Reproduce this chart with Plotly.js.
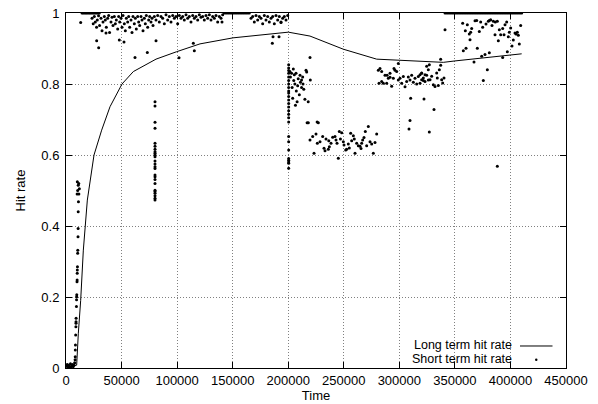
<!DOCTYPE html>
<html>
<head>
<meta charset="utf-8">
<script src="https://cdn.plot.ly/plotly-3.0.1.min.js"></script>
<style>html,body{margin:0;padding:0;background:#fff;}#chart{width:598px;height:404px;}</style>
</head>
<body>
<div id="chart"></div>
<script>
// Long term hit rate (line)
const longX = [0, 4000, 8500, 9600, 11100, 13200, 15600, 17100, 19200, 25200, 32100, 39600, 50400, 60600, 81000, 99600, 120600, 150300, 175000, 200100, 219600, 249600, 279600, 300600, 339600, 350100, 410100];
const longY = [0.003, 0.005, 0.006, 0.008, 0.098, 0.19, 0.332, 0.398, 0.473, 0.6, 0.67, 0.736, 0.8, 0.835, 0.87, 0.891, 0.913, 0.93, 0.938, 0.946, 0.935, 0.898, 0.870, 0.867, 0.861, 0.865, 0.885];

// Short term hit rate (points), grouped by region
const startX = [500, 1200, 2000, 2500, 3200, 4000, 4500, 5200, 6000, 6500, 7200, 7800];
const startY = [0.005, 0.01, 0, 0.008, 0.003, 0.012, 0.002, 0.006, 0.01, 0.004, 0.008, 0.015];

const riseX = [8200, 8300, 8400, 8500, 8700, 8900, 9000, 9000, 9100, 9400, 9500, 9600, 9700, 9900, 10000, 10100, 10200, 10300, 10500, 10600, 10800, 10900, 11000, 11200, 10000, 10500, 11000, 11500, 10200, 12000, 11600, 13200];
const riseY = [0.023, 0.032, 0.051, 0.065, 0.093, 0.116, 0.126, 0.130, 0.140, 0.173, 0.192, 0.201, 0.206, 0.243, 0.248, 0.267, 0.276, 0.285, 0.323, 0.332, 0.37, 0.393, 0.44, 0.468, 0.49, 0.50, 0.515, 0.52, 0.525, 0.505, 0.49, 0.973];

const topX = [14400, 15600, 16800, 18000, 19200, 20400, 21600, 22800, 24000, 25200, 26400, 27600, 28800, 30000,
  23400, 24500, 25500, 26400, 27500, 28200, 29300, 30200, 31500, 32400, 33300, 34500, 35400, 36300, 37500, 38400, 39200, 40500, 41400, 42300, 43500, 44400, 45300, 46500, 47400, 48300, 49500, 50400, 51300, 52500, 53400, 54300, 55500, 56400, 57300, 58500, 59400, 60300, 61500, 62400, 63300, 64500, 65400, 66300, 67500, 68400, 69300, 70500, 71400, 72300, 73500, 74400, 75300, 76500, 77400, 78300, 79500, 81000, 82500, 84000, 85500, 87000, 88500, 90000, 91500, 93000, 94500, 96000, 97500, 99000, 100500, 102000, 103500, 105000, 106500, 108000, 109500, 111000, 112500, 114000, 115500, 117000, 118500, 120000, 121500, 123000, 124500, 126000, 127500, 129000, 130500, 132000, 133500, 135000, 136500, 138000, 139500, 141000,
  142500, 144000, 145500, 147000, 148500, 150000, 151500, 153000, 154500, 156000, 157500, 159000, 160500, 162000, 163500, 165000,
  166500, 168000, 169500, 171000, 172500, 174000, 175500, 177000, 178500, 180000, 181500, 183000, 184500, 186000, 187500, 189000, 190500, 192000, 193500, 195000, 196500, 198000, 199500,
  27600, 29400, 36000, 48000, 52200, 62100, 73200, 81000, 101700, 114600, 115500, 140400, 186300, 185700, 191700, 193500];
const topY = [1, 1, 1, 1, 1, 1, 1, 1, 1, 1, 1, 1, 1, 1,
  0.985, 0.97, 0.99, 0.975, 0.96, 0.98, 0.992, 0.965, 0.985, 0.95, 0.975, 0.99, 0.98, 0.96, 0.985, 0.993, 0.945, 0.975, 0.988, 0.965, 0.99, 0.97, 0.98, 0.955, 0.99, 0.975, 0.985, 0.96, 0.993, 0.97, 0.95, 0.985, 0.975, 0.99, 0.96, 0.98, 0.945, 0.99, 0.97, 0.985, 0.955, 0.99, 0.975, 0.965, 0.99, 0.98, 0.95, 0.985, 0.97, 0.993, 0.96, 0.98, 0.99, 0.975, 0.985, 0.965, 0.99, 0.98, 0.993, 0.975, 0.99, 0.985, 0.97, 0.995, 0.98, 0.99, 0.975, 0.993, 0.985, 0.99, 0.97, 0.993, 0.985, 0.99, 0.98, 0.995, 0.985, 0.99, 0.975, 0.993, 0.985, 0.99, 0.98, 0.995, 0.988, 0.99, 0.98, 0.993, 0.985, 0.995, 0.98, 0.99, 0.985, 0.993, 0.975, 0.99, 0.985, 0.995,
  1, 1, 1, 1, 1, 1, 1, 1, 1, 1, 1, 1, 1, 1, 1, 1,
  0.985, 0.99, 0.975, 0.993, 0.98, 0.99, 0.985, 0.97, 0.993, 0.98, 0.99, 0.975, 0.985, 0.99, 0.97, 0.993, 0.98, 0.99, 0.975, 0.985, 0.99, 0.98, 0.993,
  0.922, 0.902, 0.944, 0.924, 0.918, 0.875, 0.889, 0.922, 0.874, 0.915, 0.894, 0.975, 0.933, 0.915, 0.933, 0.973];

const dip80X = [80100, 80100, 80100, 80100, 80100, 80100, 80100, 80100, 80100, 80100, 80100, 80100, 80100, 80100, 80100, 80100, 80100, 80100, 80100, 80100, 80100, 80100, 80100, 80100, 80100];
const dip80Y = [0.750, 0.738, 0.692, 0.675, 0.633, 0.625, 0.616, 0.609, 0.605, 0.600, 0.595, 0.583, 0.567, 0.562, 0.544, 0.539, 0.531, 0.501, 0.497, 0.492, 0.478, 0.473, 0.485, 0.52, 0.575];

const dip200X = [200400, 200400, 200400, 200400, 200400, 200400, 200400, 200400, 200400, 200400, 200400, 200400, 200400, 200400, 200400, 200400, 200400, 200400, 200400, 200400, 200400, 200400, 200400, 200400, 200400, 200400,
  219600, 216000, 216600, 204600, 207000, 210600, 212000, 219900, 213300, 212000, 207300, 214000, 215000, 208000, 218000, 217000, 226000, 202000, 203000, 205000, 206000, 209000, 211000, 201500, 203500, 205500, 208500, 210000, 213000, 204000, 206500];
const dip200Y = [0.854, 0.845, 0.838, 0.83, 0.82, 0.81, 0.80, 0.79, 0.78, 0.775, 0.765, 0.755, 0.745, 0.735, 0.725, 0.715, 0.705, 0.693, 0.652, 0.637, 0.614, 0.59, 0.585, 0.58, 0.577, 0.5625,
  0.875, 0.839, 0.834, 0.842, 0.83, 0.825, 0.811, 0.811, 0.80, 0.79, 0.78, 0.785, 0.757, 0.75, 0.75, 0.691, 0.693, 0.82, 0.83, 0.81, 0.80, 0.815, 0.805, 0.835, 0.79, 0.826, 0.795, 0.77, 0.82, 0.76, 0.74];

const lowX = [219600, 222000, 225000, 226200, 228600, 231000, 232200, 233100, 236100, 237000, 238500, 240000, 242100, 243000, 243900, 245100, 246000, 248100, 249600, 250200, 251700, 252600, 254100, 256200, 257100, 258600, 260100, 261600, 263100, 264600, 266100, 267000, 268200, 269400, 270600, 272100, 273600, 275100, 276600, 278100, 279600, 223200, 227100, 218100, 234000, 236500, 255000, 259500, 265500, 247000];
const lowY = [0.642, 0.652, 0.659, 0.633, 0.637, 0.652, 0.619, 0.612, 0.616, 0.623, 0.633, 0.650, 0.652, 0.642, 0.633, 0.591, 0.666, 0.663, 0.637, 0.628, 0.614, 0.616, 0.631, 0.661, 0.640, 0.654, 0.605, 0.633, 0.626, 0.625, 0.633, 0.642, 0.649, 0.666, 0.626, 0.680, 0.637, 0.631, 0.605, 0.635, 0.659, 0.605, 0.691, 0.691, 0.645, 0.64, 0.62, 0.645, 0.618, 0.645];

const midX = [281100, 282600, 284100, 281700, 284100, 287100, 288600, 290100, 291600, 293100, 295200, 297600, 299100,
  285600, 289000, 291600, 294600, 296100, 299100, 300600, 302100, 303600, 305100, 306600, 308100, 309600, 311100, 312600, 314100, 315600, 317100, 318600, 320100, 321600, 323100, 324600, 326100, 327000,
  320100, 321600, 323100, 324600, 326100, 327600, 329100, 330600, 332100, 333600, 334200, 335100, 336000, 337200, 338100, 339000, 340200, 320100, 318600,
  309600, 308700, 322200, 310200, 331200, 327000, 341100, 337200];
const midY = [0.839, 0.844, 0.835, 0.802, 0.807, 0.825, 0.802, 0.816, 0.819, 0.794, 0.844, 0.835, 0.811,
  0.802, 0.825, 0.830, 0.816, 0.839, 0.858, 0.816, 0.802, 0.821, 0.792, 0.807, 0.82, 0.811, 0.825, 0.805, 0.816, 0.80, 0.821, 0.802, 0.830, 0.81, 0.807, 0.825, 0.811, 0.854,
  0.831, 0.817, 0.826, 0.85, 0.840, 0.812, 0.822, 0.798, 0.793, 0.831, 0.817, 0.796, 0.840, 0.853, 0.812, 0.803, 0.817, 0.812, 0.826,
  0.697, 0.673, 0.758, 0.760, 0.728, 0.665, 0.953, 0.870];

const endX = [341100, 342600, 344100, 345600, 347100, 348600, 350100, 351600, 353100, 354600, 356100, 357600, 359100, 360600, 362100, 363600, 365100, 366600, 368100, 369600, 371100, 372600, 374100, 375600, 377100, 378600, 380100, 381600, 383100, 384600, 386100, 387600, 389100, 390600, 392100, 393600, 395100, 396600, 398100, 399600, 401100, 402600, 404100, 405600, 407100, 408600, 410100,
  357000, 361200, 365100, 359400, 363000, 364200, 363600, 368100, 369600, 372000, 373200, 375000, 378000, 380100, 381000, 382200, 383400, 384600, 386400, 388200, 386100, 389100, 390000, 391200, 393000, 394200, 395100, 396600, 398100, 399000, 400200, 401400, 402600, 404100, 405000, 406200, 407100, 408000, 409200,
  357600, 360000, 370200, 374100, 377100, 381000, 367200, 379200, 375600, 393000, 397200, 388200];
const endY = [1, 1, 1, 1, 1, 1, 1, 1, 1, 1, 1, 1, 1, 1, 1, 1, 1, 1, 1, 1, 1, 1, 1, 1, 1, 1, 1, 1, 1, 1, 1, 1, 1, 1, 1, 1, 1, 1, 1, 1, 1, 1, 1, 1, 1, 1, 1,
  0.971, 0.967, 0.956, 0.950, 0.941, 0.946, 0.925, 0.978, 0.979, 0.948, 0.975, 0.960, 0.969, 0.977, 0.979, 0.981, 0.965, 0.977, 0.975, 0.977, 0.939, 0.922, 0.953, 0.939, 0.956, 0.939, 0.967, 0.975, 0.933, 0.946, 0.958, 0.907, 0.924, 0.944, 0.941, 0.946, 0.937, 0.913, 0.965,
  0.894, 0.901, 0.901, 0.878, 0.883, 0.888, 0.862, 0.840, 0.810, 0.875, 0.891, 0.568];

const shortX = [].concat(startX, riseX, topX, dip80X, dip200X, lowX, midX, endX);
const shortY = [].concat(startY, riseY, topY, dip80Y, dip200Y, lowY, midY, endY);

const xTicks = [0, 50000, 100000, 150000, 200000, 250000, 300000, 350000, 400000, 450000];
const yTicks = [0, 0.2, 0.4, 0.6, 0.8, 1];
const legendNames = ['Long term hit rate', 'Short term hit rate'];

const FONT = 'Liberation Sans, Arial, Helvetica, sans-serif';

const traces = [
  {x: longX, y: longY, type: 'scatter', mode: 'lines', name: legendNames[0],
   line: {color: '#000', width: 1}, hoverinfo: 'skip'},
  {x: shortX, y: shortY, type: 'scatter', mode: 'markers', name: legendNames[1],
   marker: {color: '#000', size: 3, line: {width: 0}}, cliponaxis: true}
];

const axisCommon = {
  showline: true, linecolor: '#000', linewidth: 1, mirror: 'allticks',
  ticks: 'inside', ticklen: 6, tickcolor: '#000', tickwidth: 1,
  showgrid: true, gridcolor: '#808080', griddash: '1px,2px', gridwidth: 1,
  zeroline: false, tickfont: {family: FONT, size: 13, color: '#000'}
};

const layout = {
  width: 598, height: 404,
  margin: {l: 66, r: 32, t: 13, b: 36},
  paper_bgcolor: '#fff', plot_bgcolor: '#fff',
  showlegend: false,
  font: {family: FONT, size: 13, color: '#000'},
  xaxis: Object.assign({}, axisCommon, {
    range: [0, 450000], tickvals: xTicks, ticktext: xTicks.map(v => String(v)),
    title: {text: 'Time', font: {family: FONT, size: 13}, standoff: 2}
  }),
  yaxis: Object.assign({}, axisCommon, {
    range: [0, 1], tickvals: yTicks, ticktext: yTicks.map(v => String(v)),
    ticklabelstandoff: 3,
    title: {text: 'Hit rate', font: {family: FONT, size: 13}, standoff: 12}
  }),
  annotations: [
    {xref: 'paper', yref: 'paper', x: 0.893, y: 0.066, xanchor: 'right', yanchor: 'middle',
     text: legendNames[0], showarrow: false, borderpad: 0,
     font: {family: FONT, size: 12.5, color: '#000'}},
    {xref: 'paper', yref: 'paper', x: 0.893, y: 0.026, xanchor: 'right', yanchor: 'middle',
     text: legendNames[1], showarrow: false, borderpad: 0,
     font: {family: FONT, size: 12.5, color: '#000'}}
  ],
  shapes: [
    {type: 'line', xref: 'paper', yref: 'paper', x0: 0.908, x1: 0.973, y0: 0.062, y1: 0.062,
     line: {color: '#000', width: 1}},
    {type: 'circle', xref: 'paper', yref: 'paper', x0: 0.938, x1: 0.943, y0: 0.020, y1: 0.027,
     fillcolor: '#000', line: {color: '#000', width: 0}}
  ]
};

Plotly.newPlot('chart', traces, layout, {staticPlot: true, displayModeBar: false});
</script>
</body>
</html>
